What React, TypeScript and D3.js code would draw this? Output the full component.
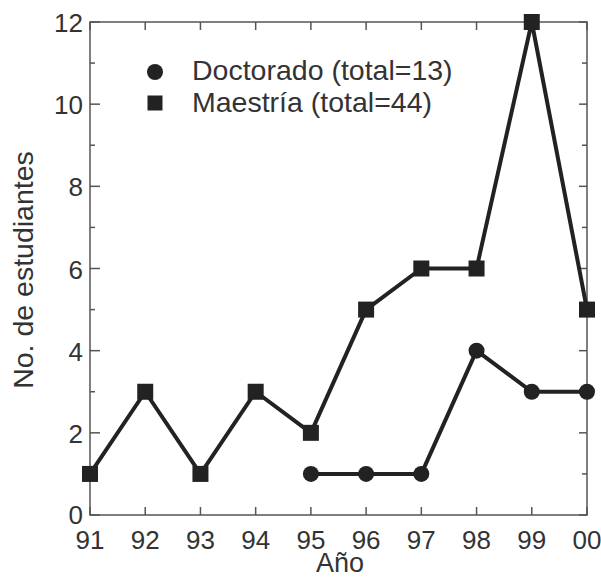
import React from "react";
import * as d3 from "d3";

const years = [91, 92, 93, 94, 95, 96, 97, 98, 99, 100];
const yearLabels = ["91", "92", "93", "94", "95", "96", "97", "98", "99", "00"];
const maestria = [1, 3, 1, 3, 2, 5, 6, 6, 12, 5];
const doctoradoYears = [95, 96, 97, 98, 99, 100];
const doctorado = [1, 1, 1, 4, 3, 3];
const yTicks = [0, 2, 4, 6, 8, 10, 12];
const yMinor = [1, 3, 5, 7, 9, 11];

export default function App() {
  const W = 601, H = 578;
  const x0 = 90, x1 = 587, y0 = 515, y1 = 22;
  const x = d3.scaleLinear().domain([91, 100]).range([x0, x1]);
  const y = d3.scaleLinear().domain([0, 12]).range([y0, y1]);
  const line = d3.line<[number, number]>().x(d => x(d[0])).y(d => y(d[1]));
  const mPts: [number, number][] = years.map((yr, i) => [yr, maestria[i]]);
  const dPts: [number, number][] = doctoradoYears.map((yr, i) => [yr, doctorado[i]]);
  const axisColor = "#555";
  const ink = "#222";
  const txt = "#333";
  const font = "Liberation Sans, Arial, sans-serif";
  const sq = 16;
  return (
    <svg width={W} height={H} style={{ position: "absolute", left: 0, top: 0, background: "#fff" }}>
      <rect x={x0} y={y1} width={x1 - x0} height={y0 - y1} fill="none" stroke={axisColor} strokeWidth={1.5} />
      {years.map((yr, i) => (
        <g key={"xt" + i}>
          <line x1={x(yr)} x2={x(yr)} y1={y0} y2={y0 - 8} stroke={axisColor} strokeWidth={1.5} />
          <line x1={x(yr)} x2={x(yr)} y1={y1} y2={y1 + 8} stroke={axisColor} strokeWidth={1.5} />
          <text x={x(yr)} y={549} textAnchor="middle" fontSize={26} fill={txt} fontFamily={font}>{yearLabels[i]}</text>
        </g>
      ))}
      {yTicks.map(v => (
        <g key={"yt" + v}>
          <line x1={x0} x2={x0 + 10} y1={y(v)} y2={y(v)} stroke={axisColor} strokeWidth={1.5} />
          <line x1={x1} x2={x1 - 8} y1={y(v)} y2={y(v)} stroke={axisColor} strokeWidth={1.5} />
          <text x={83} y={y(v) + (v === 0 ? 9 : 10)} textAnchor="end" fontSize={26} fill={txt} fontFamily={font}>{v}</text>
        </g>
      ))}
      {yMinor.map(v => (
        <g key={"ym" + v}>
          <line x1={x0} x2={x0 + 5} y1={y(v)} y2={y(v)} stroke={axisColor} strokeWidth={1.5} />
          <line x1={x1} x2={x1 - 5} y1={y(v)} y2={y(v)} stroke={axisColor} strokeWidth={1.5} />
        </g>
      ))}
      <path d={line(mPts) || ""} fill="none" stroke={ink} strokeWidth={4} strokeLinejoin="round" />
      <path d={line(dPts) || ""} fill="none" stroke={ink} strokeWidth={4} strokeLinejoin="round" />
      {mPts.map((p, i) => (
        <rect key={"m" + i} x={x(p[0]) - sq / 2} y={y(p[1]) - sq / 2} width={sq} height={sq} fill={ink} />
      ))}
      {dPts.map((p, i) => (
        <circle key={"d" + i} cx={x(p[0])} cy={y(p[1])} r={8} fill={ink} />
      ))}
      <circle cx={155} cy={72} r={8} fill={ink} />
      <rect x={155 - 7.5} y={103 - 7.5} width={15} height={15} fill={ink} />
      <text x={192} y={80} fontSize={28.5} fill={txt} fontFamily={font}>Doctorado (total=13)</text>
      <text x={192} y={112} fontSize={28.5} fill={txt} fontFamily={font}>Maestría (total=44)</text>
      <text x={340} y={572} textAnchor="middle" fontSize={27} fill={txt} fontFamily={font}>Año</text>
      <text transform={`translate(33,270) rotate(-90)`} textAnchor="middle" fontSize={28.5} fill={txt} fontFamily={font}>No. de estudiantes</text>
    </svg>
  );
}
